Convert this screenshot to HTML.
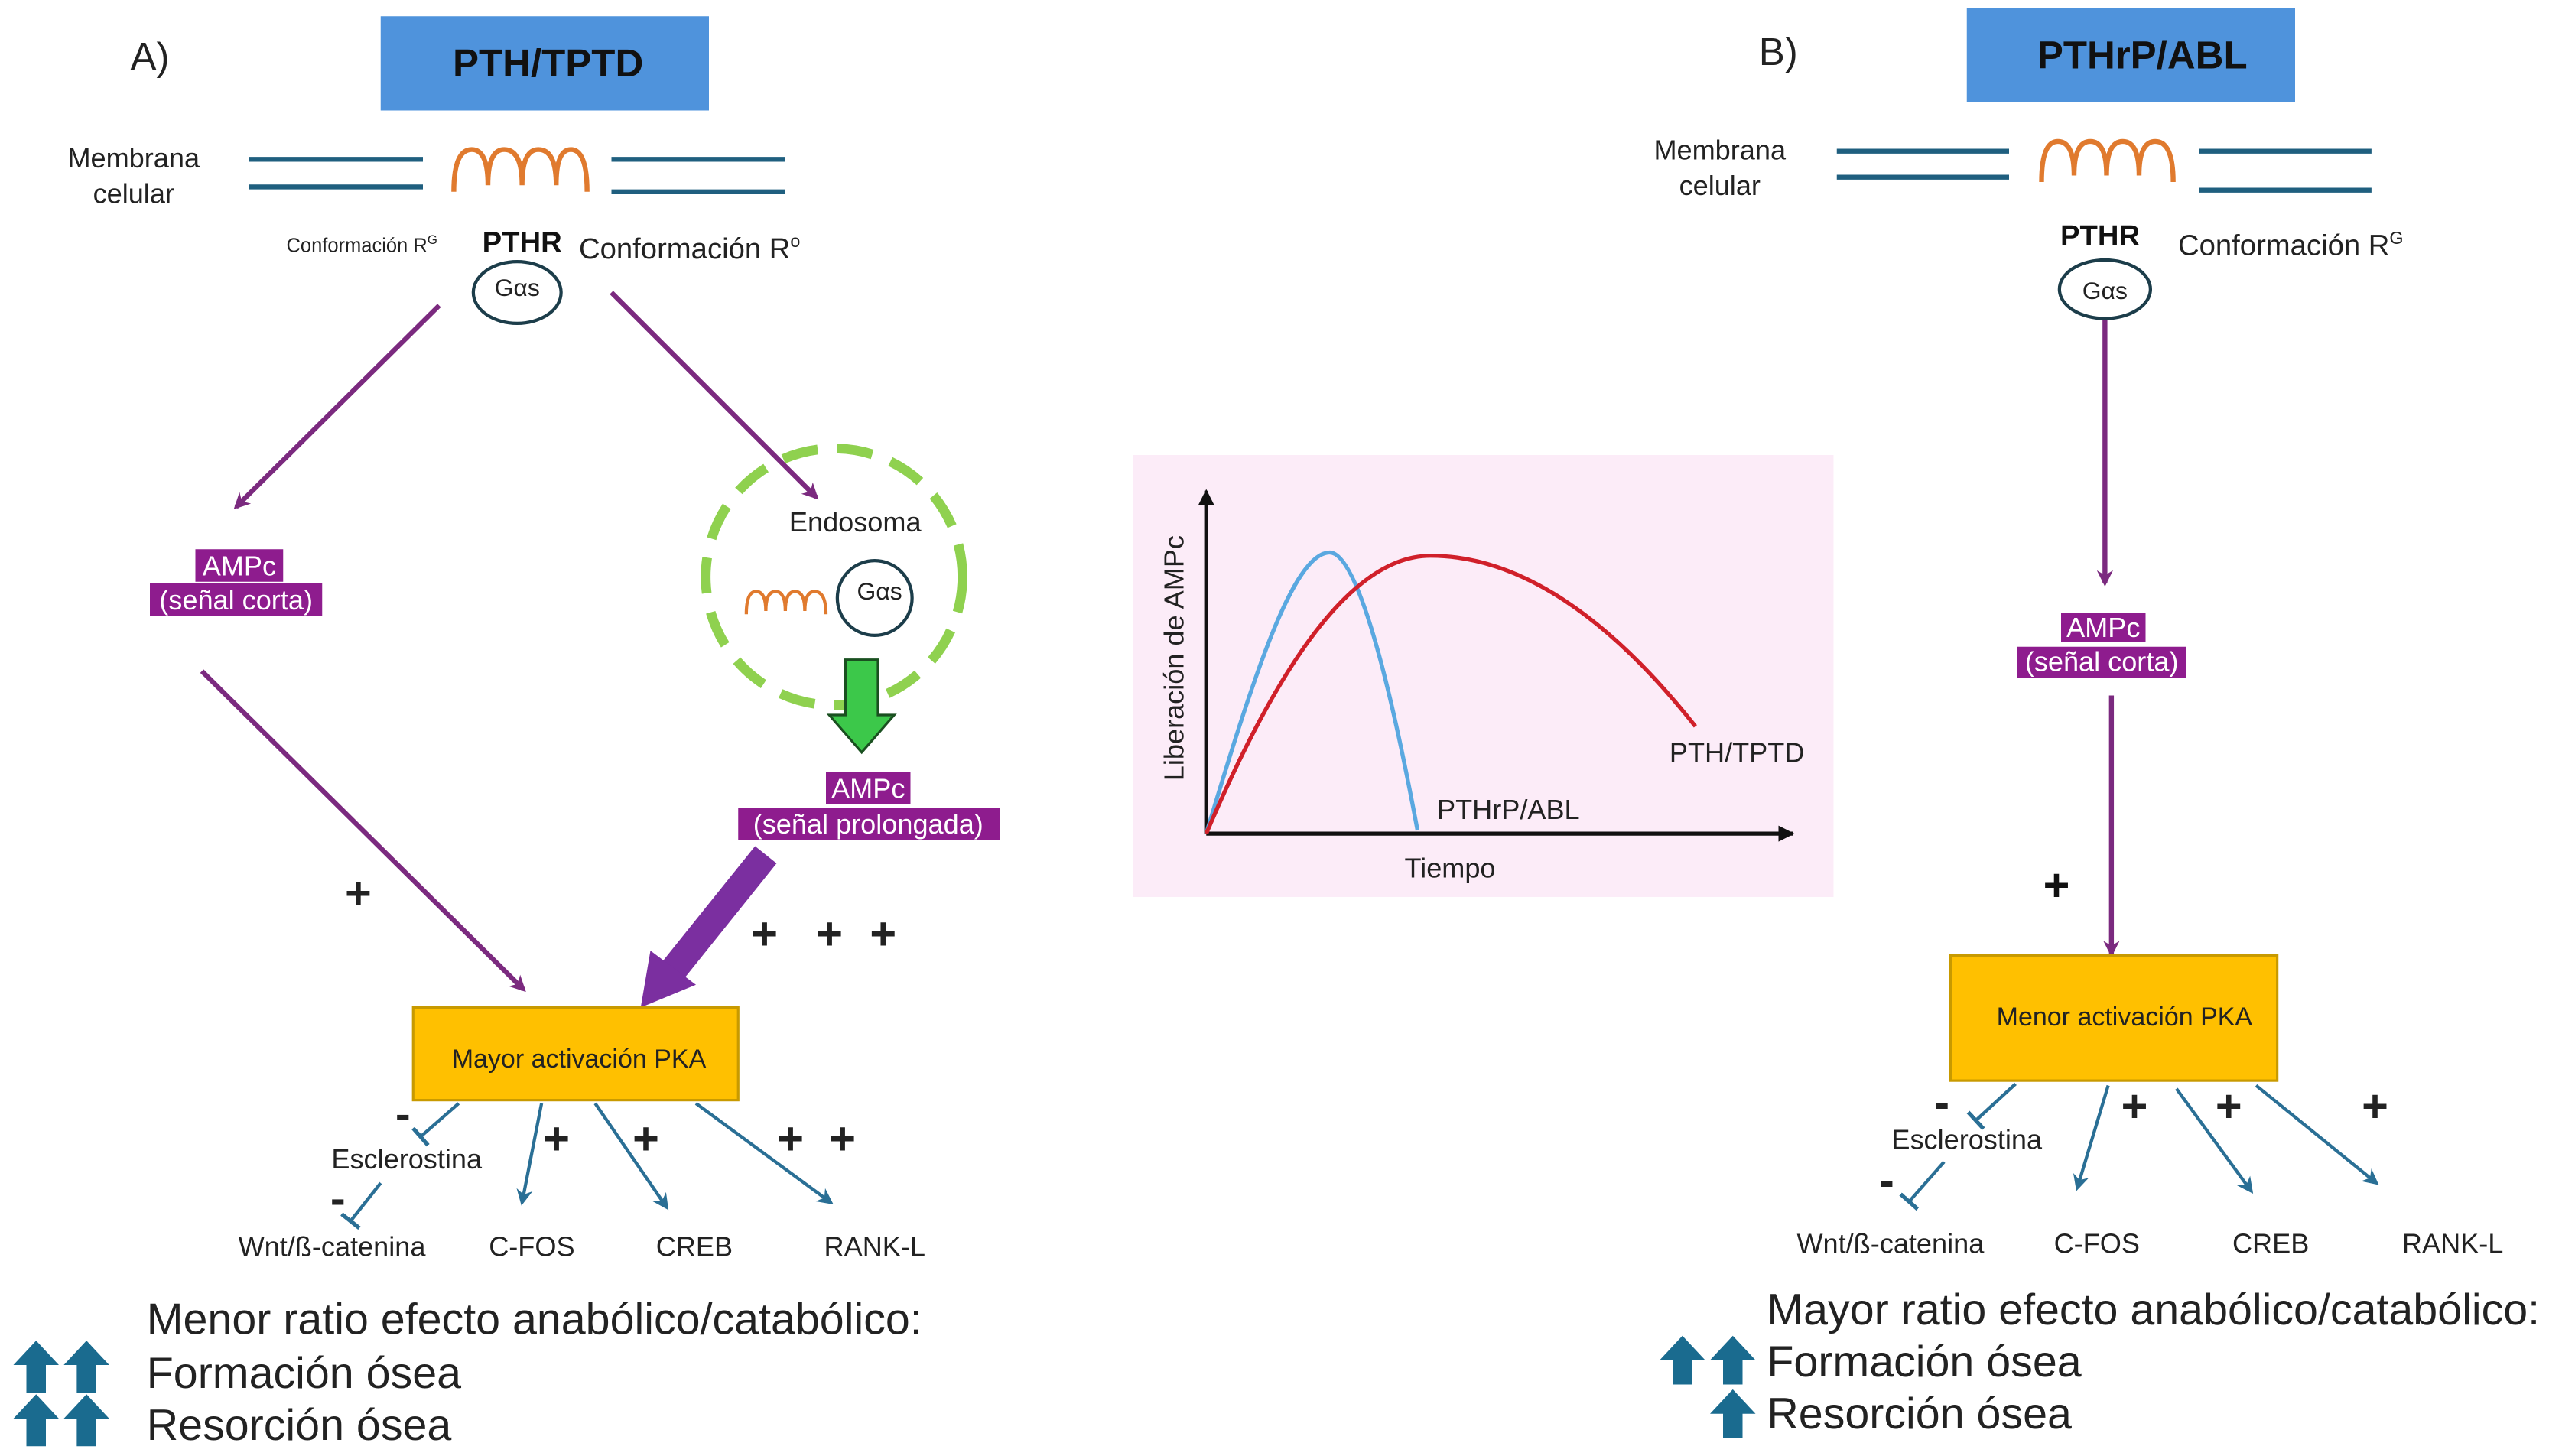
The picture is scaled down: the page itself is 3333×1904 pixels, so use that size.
<!DOCTYPE html>
<html><head><meta charset="utf-8"><style>
html,body{margin:0;padding:0;background:#fff;}
svg{display:block;}
text{font-family:"Liberation Sans",sans-serif;fill:#222;}
.b{font-weight:bold;fill:#111;}
.w{fill:#fff;}
</style></head><body>
<svg width="3333" height="1904" viewBox="0 0 1568 896" xmlns="http://www.w3.org/2000/svg">
<defs>
<marker id="pa" markerWidth="10" markerHeight="10" refX="8" refY="5" orient="auto" markerUnits="userSpaceOnUse"><path d="M0,0 L10,5 L0,10 L3,5 z" fill="#7b2a7f"/></marker>
<marker id="ta" markerWidth="10" markerHeight="10" refX="8" refY="5" orient="auto" markerUnits="userSpaceOnUse"><path d="M0,0 L10,5 L0,10 L3,5 z" fill="#2a6f95"/></marker>
<marker id="tb" markerWidth="4" markerHeight="14" refX="2" refY="7" orient="auto" markerUnits="userSpaceOnUse"><rect x="0" y="0" width="2.5" height="14" fill="#2a6f95"/></marker>
<marker id="ka" markerWidth="10" markerHeight="10" refX="9" refY="5" orient="auto" markerUnits="userSpaceOnUse"><path d="M0,0 L10,5 L0,10 z" fill="#111"/></marker>
</defs>

<!-- ===== A ===== -->
<text x="80" y="43" font-size="24">A)</text>
<rect x="234" y="10" width="202" height="58" fill="#4f93dc"/>
<text x="337" y="47" font-size="24" class="b" text-anchor="middle">PTH/TPTD</text>
<text x="82" y="103" font-size="17" text-anchor="middle">Membrana</text>
<text x="82" y="125" font-size="17" text-anchor="middle">celular</text>
<g stroke="#1f5f7f" stroke-width="3">
<line x1="153" y1="98" x2="260" y2="98"/><line x1="153" y1="115" x2="260" y2="115"/>
<line x1="376" y1="98" x2="483" y2="98"/><line x1="376" y1="118" x2="483" y2="118"/>
</g>
<path d="M279,118 Q279,92 290,92 Q300,92 300,114 Q300,92 310,92 Q321,92 321,114 Q321,92 331,92 Q342,92 342,114 Q342,92 351,92 Q361,92 361,118" fill="none" stroke="#e07a2e" stroke-width="3"/>
<text x="176" y="155" font-size="12">Conformación R<tspan font-size="8" dy="-5">G</tspan></text>
<text x="321" y="155" font-size="18" class="b" text-anchor="middle">PTHR</text>
<text x="356" y="159" font-size="18">Conformación R<tspan font-size="11" dy="-7">o</tspan></text>
<ellipse cx="318" cy="180" rx="27" ry="19" fill="#fff" stroke="#1c3d4a" stroke-width="2"/>
<text x="318" y="182" font-size="15" text-anchor="middle">Gαs</text>
<g stroke="#7b2a7f" stroke-width="3" fill="none">
<line x1="270" y1="188" x2="145" y2="312" marker-end="url(#pa)"/>
<line x1="376" y1="180" x2="502" y2="306" marker-end="url(#pa)"/>
<line x1="124" y1="413" x2="322" y2="609" marker-end="url(#pa)"/>
</g>
<rect x="120" y="338" width="54" height="20" fill="#8e1c8e"/>
<rect x="92" y="359" width="106" height="20" fill="#8e1c8e"/>
<text x="147" y="354" font-size="17" class="w" text-anchor="middle">AMPc</text>
<text x="145" y="375" font-size="17" class="w" text-anchor="middle">(señal corta)</text>
<circle cx="513" cy="355" r="79" fill="none" stroke="#8fd14f" stroke-width="6" stroke-dasharray="22 12"/>
<text x="526" y="327" font-size="17" text-anchor="middle">Endosoma</text>
<path d="M459,378 Q459,364 465,364 Q471,364 471,376 Q471,364 477,364 Q483,364 483,376 Q483,364 489,364 Q495,364 495,376 Q495,364 501,364 Q508,364 508,378" fill="none" stroke="#e07a2e" stroke-width="2"/>
<circle cx="538" cy="368" r="23" fill="#fff" stroke="#1c3d4a" stroke-width="2"/>
<text x="541" y="369" font-size="15" text-anchor="middle">Gαs</text>
<path d="M520,406 L540,406 L540,440 L550,440 L530,463 L510,440 L520,440 z" fill="#3cc84a" stroke="#1a5020" stroke-width="1.5"/>
<rect x="508" y="475" width="52" height="20" fill="#8e1c8e"/>
<rect x="454" y="497" width="161" height="20" fill="#8e1c8e"/>
<text x="534" y="491" font-size="17" class="w" text-anchor="middle">AMPc</text>
<text x="534" y="513" font-size="17" class="w" text-anchor="middle">(señal prolongada)</text>
<line x1="471" y1="526" x2="414" y2="597" stroke="#7b2fa0" stroke-width="17"/>
<path d="M394,620 L400,585 L428,606 z" fill="#7b2fa0"/>
<g font-size="28" class="b">
<text x="212" y="559">+</text>
<text x="462" y="584">+</text><text x="502" y="584">+</text><text x="535" y="584">+</text>
</g>
<rect x="254" y="620" width="200" height="57" fill="#ffc000" stroke="#c89a00" stroke-width="1.5"/>
<text x="356" y="657" font-size="16" text-anchor="middle">Mayor activación PKA</text>
<g stroke="#2a6f95" stroke-width="2" fill="none">
<line x1="282" y1="679" x2="258" y2="700" marker-end="url(#tb)"/>
<line x1="234" y1="728" x2="215" y2="752" marker-end="url(#tb)"/>
<line x1="333" y1="679" x2="321" y2="740" marker-end="url(#ta)"/>
<line x1="366" y1="679" x2="410" y2="743" marker-end="url(#ta)"/>
<line x1="428" y1="679" x2="511" y2="740" marker-end="url(#ta)"/>
</g>
<g font-size="28" class="b">
<text x="243" y="695">-</text><text x="203" y="747">-</text>
<text x="334" y="710">+</text><text x="389" y="710">+</text><text x="478" y="710">+</text><text x="510" y="710">+</text>
</g>
<g font-size="17">
<text x="250" y="719" text-anchor="middle">Esclerostina</text>
<text x="204" y="773" text-anchor="middle">Wnt/ß-catenina</text>
<text x="327" y="773" text-anchor="middle">C-FOS</text>
<text x="427" y="773" text-anchor="middle">CREB</text>
<text x="538" y="773" text-anchor="middle">RANK-L</text>
</g>
<g font-size="27">
<text x="90" y="821">Menor ratio efecto anabólico/catabólico:</text>
<text x="90" y="854">Formación ósea</text>
<text x="90" y="886">Resorción ósea</text>
</g>
<g fill="#1a6b8f">
<path id="ua" d="M8,840 L22,825 L36,840 L28,840 L28,857 L16,857 L16,840 z"/>
<use href="#ua" x="31"/><use href="#ua" y="33"/><use href="#ua" x="31" y="33"/>
</g>

<!-- ===== Graph ===== -->
<rect x="697" y="280" width="431" height="272" fill="#fcecf8"/>
<g stroke="#111" stroke-width="2.5" fill="none">
<line x1="742" y1="513" x2="742" y2="302" marker-end="url(#ka)"/>
<line x1="742" y1="513" x2="1103" y2="513" marker-end="url(#ka)"/>
</g>
<path d="M742,513 C770,420 795,340 818,340 C835,340 855,420 872,511" fill="none" stroke="#5aa8e0" stroke-width="2.5"/>
<path d="M742,513 C790,400 835,342 880,342 C935,342 990,380 1043,447" fill="none" stroke="#d0202a" stroke-width="2.5"/>
<text x="884" y="504" font-size="17">PTHrP/ABL</text>
<text x="1027" y="469" font-size="17">PTH/TPTD</text>
<text x="892" y="540" font-size="17" text-anchor="middle">Tiempo</text>
<text x="0" y="0" font-size="17" text-anchor="middle" transform="translate(728,405) rotate(-90)">Liberación de AMPc</text>

<!-- ===== B ===== -->
<text x="1082" y="40" font-size="24">B)</text>
<rect x="1210" y="5" width="202" height="58" fill="#4f93dc"/>
<text x="1318" y="42" font-size="24" class="b" text-anchor="middle">PTHrP/ABL</text>
<text x="1058" y="98" font-size="17" text-anchor="middle">Membrana</text>
<text x="1058" y="120" font-size="17" text-anchor="middle">celular</text>
<g stroke="#1f5f7f" stroke-width="3">
<line x1="1130" y1="93" x2="1236" y2="93"/><line x1="1130" y1="109" x2="1236" y2="109"/>
<line x1="1353" y1="93" x2="1459" y2="93"/><line x1="1353" y1="117" x2="1459" y2="117"/>
</g>
<path d="M1256,112 Q1256,87 1266,87 Q1276,87 1276,108 Q1276,87 1286,87 Q1296,87 1296,108 Q1296,87 1306,87 Q1316,87 1316,108 Q1316,87 1326,87 Q1337,87 1337,112" fill="none" stroke="#e07a2e" stroke-width="3"/>
<text x="1292" y="151" font-size="18" class="b" text-anchor="middle">PTHR</text>
<text x="1340" y="157" font-size="18">Conformación R<tspan font-size="11" dy="-7">G</tspan></text>
<ellipse cx="1295" cy="178" rx="28" ry="18" fill="#fff" stroke="#1c3d4a" stroke-width="2"/>
<text x="1295" y="184" font-size="15" text-anchor="middle">Gαs</text>
<g stroke="#7b2a7f" stroke-width="3" fill="none">
<line x1="1295" y1="197" x2="1295" y2="359" marker-end="url(#pa)"/>
<line x1="1299" y1="428" x2="1299" y2="587" marker-end="url(#pa)"/>
</g>
<rect x="1268" y="377" width="52" height="18" fill="#8e1c8e"/>
<rect x="1241" y="398" width="104" height="19" fill="#8e1c8e"/>
<text x="1294" y="392" font-size="17" class="w" text-anchor="middle">AMPc</text>
<text x="1293" y="413" font-size="17" class="w" text-anchor="middle">(señal corta)</text>
<text x="1257" y="554" font-size="28" class="b">+</text>
<rect x="1200" y="588" width="201" height="77" fill="#ffc000" stroke="#c89a00" stroke-width="1.5"/>
<text x="1307" y="631" font-size="16" text-anchor="middle">Menor activación PKA</text>
<g stroke="#2a6f95" stroke-width="2" fill="none">
<line x1="1240" y1="667" x2="1215" y2="690" marker-end="url(#tb)"/>
<line x1="1196" y1="715" x2="1174" y2="740" marker-end="url(#tb)"/>
<line x1="1297" y1="668" x2="1278" y2="731" marker-end="url(#ta)"/>
<line x1="1339" y1="670" x2="1385" y2="733" marker-end="url(#ta)"/>
<line x1="1388" y1="668" x2="1462" y2="728" marker-end="url(#ta)"/>
</g>
<g font-size="28" class="b">
<text x="1190" y="688">-</text><text x="1156" y="736">-</text>
<text x="1305" y="690">+</text><text x="1363" y="690">+</text><text x="1453" y="690">+</text>
</g>
<g font-size="17">
<text x="1210" y="707" text-anchor="middle">Esclerostina</text>
<text x="1163" y="771" text-anchor="middle">Wnt/ß-catenina</text>
<text x="1290" y="771" text-anchor="middle">C-FOS</text>
<text x="1397" y="771" text-anchor="middle">CREB</text>
<text x="1509" y="771" text-anchor="middle">RANK-L</text>
</g>
<g font-size="27">
<text x="1087" y="815">Mayor ratio efecto anabólico/catabólico:</text>
<text x="1087" y="847">Formación ósea</text>
<text x="1087" y="879">Resorción ósea</text>
</g>
<g fill="#1a6b8f">
<path id="ub" d="M1021,837 L1035,822 L1049,837 L1041,837 L1041,852 L1029,852 L1029,837 z"/>
<use href="#ub" x="31"/><use href="#ub" x="31" y="33"/>
</g>
</svg>
</body></html>
